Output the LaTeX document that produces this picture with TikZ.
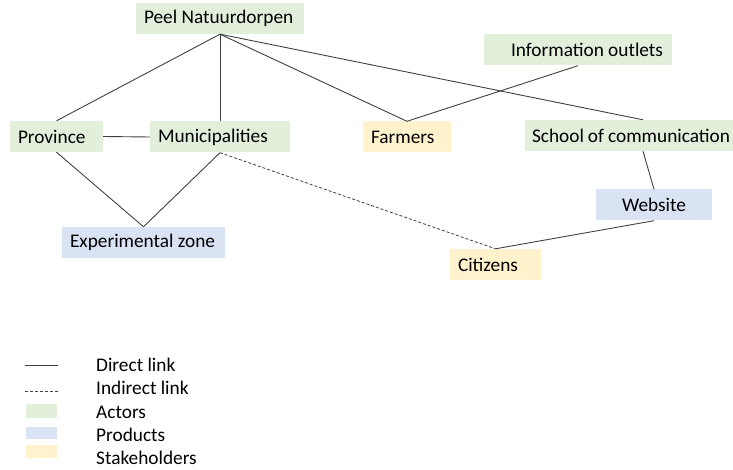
\documentclass[tikz,border=0pt]{standalone}
\usepackage{fontspec}
\setmainfont{Carlito}
\usepackage{tikz}
\usetikzlibrary{calc}
\definecolor{VerdeActor}{RGB}{226,239,218}
\definecolor{AzulProducto}{RGB}{218,227,243}
\definecolor{AmarilloStake}{RGB}{255,242,204}
\definecolor{Linea}{RGB}{64,64,64}

\begin{document}
\begin{tikzpicture}[x=1pt,y=-1pt,font=\fontsize{19.3}{22}\selectfont,
    box/.style={minimum height=31pt,inner xsep=8pt,inner ysep=0pt,text width=#1,align=flush left},
    actor/.style={box=#1,fill=VerdeActor},
    product/.style={box=#1,fill=AzulProducto},
    stake/.style={box=#1,fill=AmarilloStake},
    direct/.style={Linea,line width=0.9pt},
    indirect/.style={Linea,line width=0.8pt,dash pattern=on 3pt off 2pt}]
  \useasboundingbox (0,0) rectangle (733,470);
  % nodes
  \node[actor=152pt] (peel) at (220,18.5) {Peel Natuurdorpen};
  \node[actor=77pt] (prov) at (56.5,136.5) {Province};
  \node[actor=124pt] (muni) at (220,137) {Municipalities};
  \node[product=147pt] (exp) at (143.5,242.5) {Experimental zone};
  \node[stake=72pt] (farm) at (407,137) {Farmers};
  \node[actor=170pt,align=flush right,inner xsep=9pt] (info) at (578,50) {Information outlets};
  \node[actor=202pt,inner xsep=3pt] (school) at (629,135.5) {\hspace*{4pt}School of communication};
  \node[product=100pt,align=flush center] (web) at (654,205) {Website};
  \node[stake=75pt] (cit) at (495.5,264.5) {Citizens};
  % links
  \draw[direct] (peel.south) -- (prov.north);
  \draw[direct] (peel.south) -- (muni.north);
  \draw[direct] (peel.south) -- (farm.north);
  \draw[direct] (peel.south) -- ([xshift=14pt]school.north);
  \draw[direct] (info.south) -- (farm.north);
  \draw[direct] (prov.east) -- (muni.west);
  \draw[direct] (prov.south) -- (exp.north);
  \draw[direct] (muni.south) -- (exp.north);
  \draw[direct] ([xshift=14pt]school.south) -- (web.north);
  \draw[direct] (web.south) -- (cit.north);
  \draw[indirect] (muni.south) -- (cit.north);
  % legend
  \draw[direct] (25,365) -- (58,365);
  \draw[indirect] (25,391) -- (58,391);
  \fill[VerdeActor] (26,404) rectangle (57,418);
  \fill[AzulProducto] (26,427) rectangle (57,439);
  \fill[AmarilloStake] (26,445) rectangle (57,458);
  \node[anchor=west,inner sep=0pt] (ldirect) at (96,365) {Direct link};
  \node[anchor=west,inner sep=0pt] (lindirect) at (96,388) {Indirect link};
  \node[anchor=west,inner sep=0pt] (lactor) at (96,412) {Actors};
  \node[anchor=west,inner sep=0pt] (lproduct) at (96,435) {Products};
  \node[anchor=west,inner sep=0pt] (lstake) at (96,458) {Stakeholders};
\end{tikzpicture}
\end{document}
